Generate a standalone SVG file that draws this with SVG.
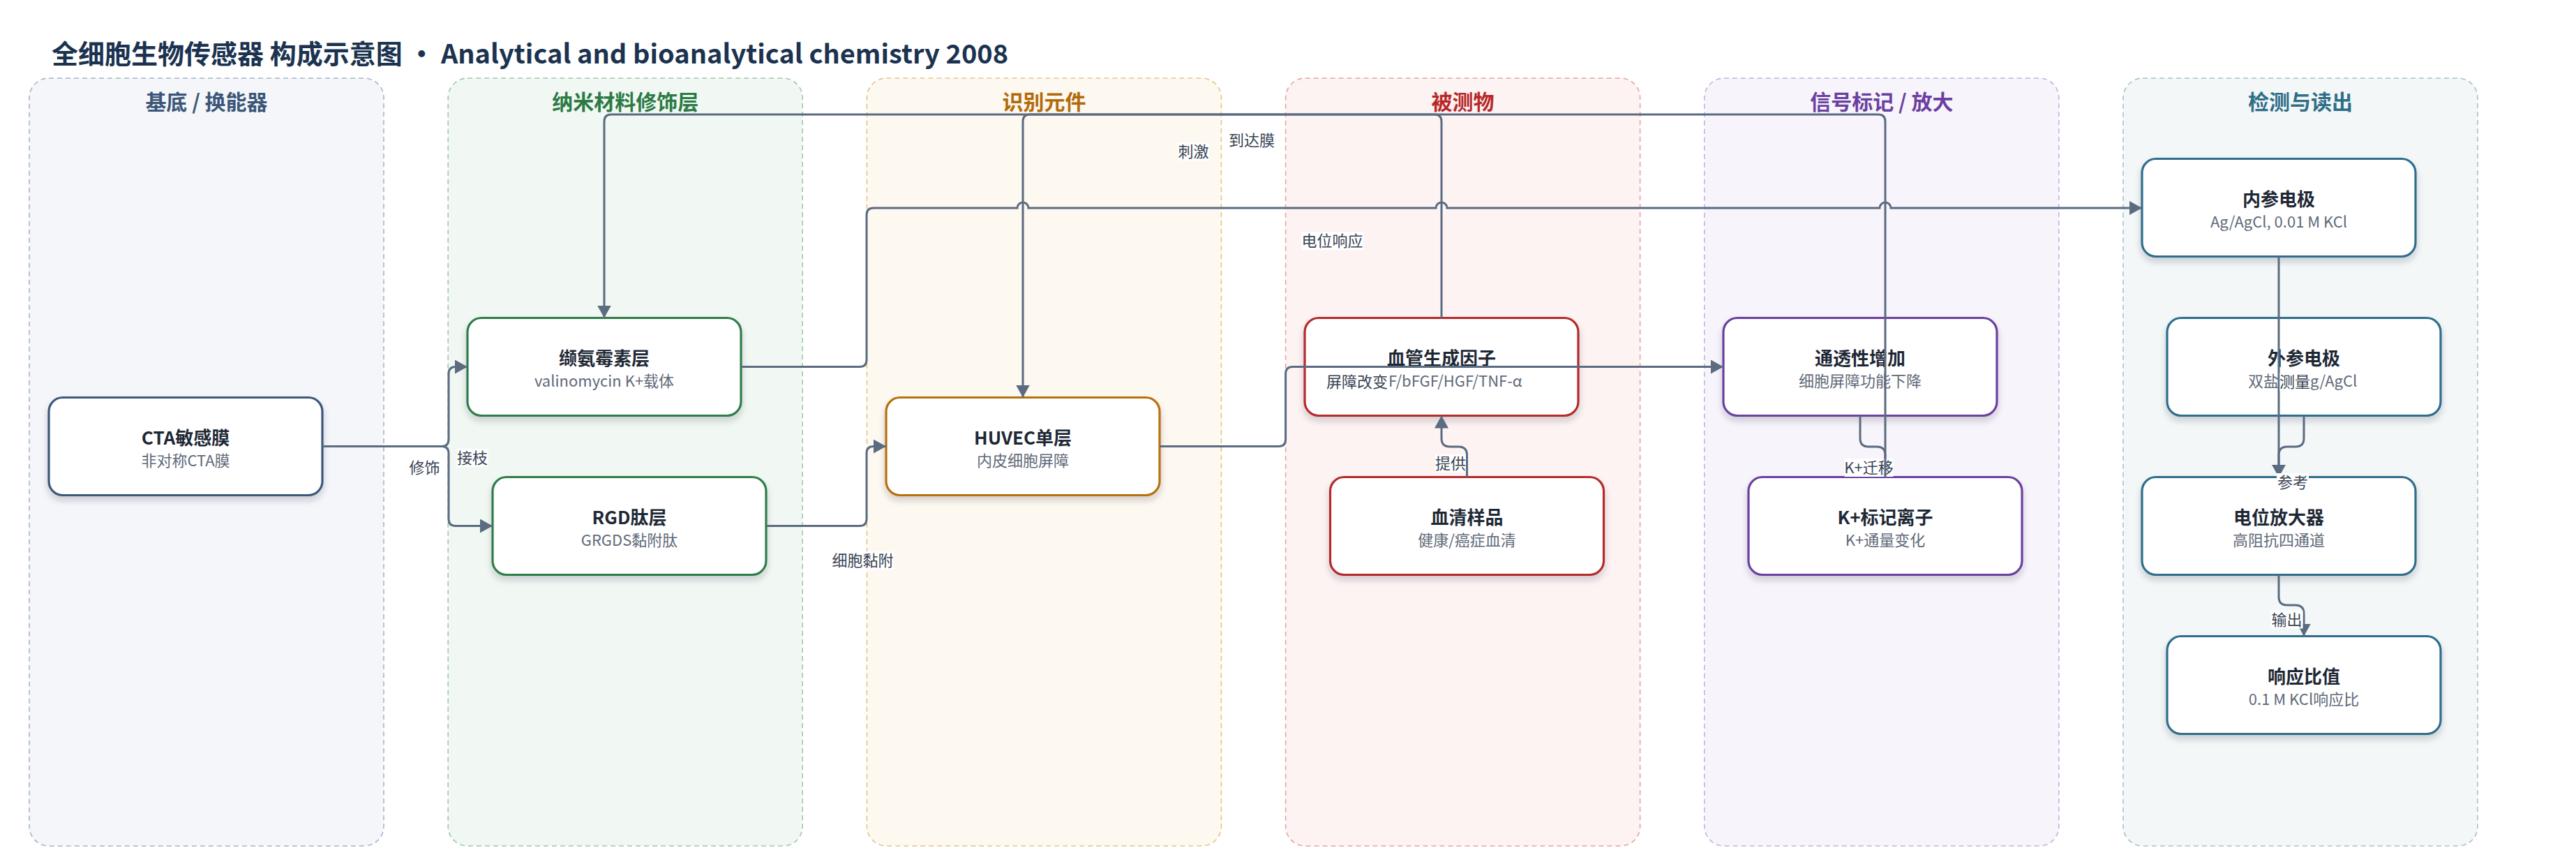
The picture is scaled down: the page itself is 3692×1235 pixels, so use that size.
<svg xmlns="http://www.w3.org/2000/svg" width="3692" height="1235" viewBox="0 0 3692 1235">
<style>
text{font-family:"Noto Sans CJK SC","Noto Sans",sans-serif}
.ttl{font-size:38px;font-weight:700;fill:#1b3350}
.lane{stroke-width:1.6;stroke-dasharray:7 5}
.lt{font-size:30px;font-weight:700;text-anchor:middle}
.node{fill:#fff;stroke-width:3.2;filter:url(#sh)}
.nt{font-size:26px;font-weight:700;fill:#1e2835;text-anchor:middle}
.ns{font-size:22px;fill:#5f6a79;text-anchor:middle}
.nss{font-size:22px;fill:#5f6a79}
.edge{fill:none;stroke:#5b6b80;stroke-width:3}
.arr{marker-end:url(#arr)}
.lb{fill:#fff}
.lbt{font-size:22px;fill:#3a4454;text-anchor:middle}
</style>
<defs>
<filter id="sh" x="-10%" y="-15%" width="120%" height="140%">
<feDropShadow dx="0" dy="6" stdDeviation="5" flood-color="#1e2835" flood-opacity="0.2"/>
</filter>
<marker id="arr" markerUnits="userSpaceOnUse" markerWidth="20" markerHeight="20" refX="18" refY="10" orient="auto">
<path d="M0,0 L18,10 L0,20 z" fill="#5b6b80"/>
</marker>
</defs>
<rect width="3692" height="1235" fill="#fff"/>
<text class="ttl" x="74" y="90.5">全细胞生物传感器 构成示意图 · Analytical and bioanalytical chemistry 2008</text>

<g id="lanes">
<g id="lane-substrate"><rect class="lane" x="42" y="112" width="508" height="1100" rx="28" fill="#f4f6fa" stroke="#a8b5c9"/><text class="lt" x="296" y="157" fill="#3c5678">基底 / 换能器</text></g>
<g id="lane-nano"><rect class="lane" x="642.2" y="112" width="508" height="1100" rx="28" fill="#f1f8f3" stroke="#9ccaa9"/><text class="lt" x="896.2" y="157" fill="#2c7a45">纳米材料修饰层</text></g>
<g id="lane-recog"><rect class="lane" x="1242.4" y="112" width="508" height="1100" rx="28" fill="#fdf8f0" stroke="#e6c38a"/><text class="lt" x="1496.4" y="157" fill="#b36b0a">识别元件</text></g>
<g id="lane-analyte"><rect class="lane" x="1842.6" y="112" width="508" height="1100" rx="28" fill="#fdf3f3" stroke="#e8a3a3"/><text class="lt" x="2096.6" y="157" fill="#b8282a">被测物</text></g>
<g id="lane-signal"><rect class="lane" x="2442.8" y="112" width="508" height="1100" rx="28" fill="#f7f4fb" stroke="#c8b0e0"/><text class="lt" x="2696.8" y="157" fill="#6b3fa0">信号标记 / 放大</text></g>
<g id="lane-detect"><rect class="lane" x="3043" y="112" width="508" height="1100" rx="28" fill="#f3f7f8" stroke="#a5c3cd"/><text class="lt" x="3297" y="157" fill="#2f6e87">检测与读出</text></g>
</g>

<g id="nodes">
<g id="n-cta"><rect class="node" x="70" y="569.5" width="392" height="140" rx="20" stroke="#3e587c"/><text class="nt" x="266" y="636.5">CTA敏感膜</text><text class="ns" x="266" y="668">非对称CTA膜</text></g>
<g id="n-valino"><rect class="node" x="670" y="455.5" width="392" height="140" rx="20" stroke="#2e7d4a"/><text class="nt" x="866" y="522.5">缬氨霉素层</text><text class="ns" x="866" y="554">valinomycin K+载体</text></g>
<g id="n-rgd"><rect class="node" x="706" y="683.5" width="392" height="140" rx="20" stroke="#2e7d4a"/><text class="nt" x="902" y="750.5">RGD肽层</text><text class="ns" x="902" y="782">GRGDS黏附肽</text></g>
<g id="n-huvec"><rect class="node" x="1270" y="569.5" width="392" height="140" rx="20" stroke="#b86f0c"/><text class="nt" x="1466" y="636.5">HUVEC单层</text><text class="ns" x="1466" y="668">内皮细胞屏障</text></g>
<g id="n-factor"><rect class="node" x="1870" y="455.5" width="392" height="140" rx="20" stroke="#b52a2a"/><text class="nt" x="2066" y="522.5">血管生成因子</text><text class="nss" x="1990" y="554">F/bFGF/HGF/TNF-α</text></g>
<g id="n-serum"><rect class="node" x="1906.5" y="683.5" width="392" height="140" rx="20" stroke="#b52a2a"/><text class="nt" x="2102.5" y="750.5">血清样品</text><text class="ns" x="2102.5" y="782">健康/癌症血清</text></g>
<g id="n-perm"><rect class="node" x="2470" y="455.5" width="392" height="140" rx="20" stroke="#6b3fa0"/><text class="nt" x="2666" y="522.5">通透性增加</text><text class="ns" x="2666" y="554">细胞屏障功能下降</text></g>
<g id="n-kion"><rect class="node" x="2506" y="683.5" width="392" height="140" rx="20" stroke="#6b3fa0"/><text class="nt" x="2702" y="750.5">K+标记离子</text><text class="ns" x="2702" y="782">K+通量变化</text></g>
<g id="n-inner"><rect class="node" x="3070" y="227.5" width="392" height="140" rx="20" stroke="#2f6e8c"/><text class="nt" x="3266" y="294.5">内参电极</text><text class="ns" x="3266" y="326">Ag/AgCl, 0.01 M KCl</text></g>
<g id="n-outer"><rect class="node" x="3106" y="455.5" width="392" height="140" rx="20" stroke="#2f6e8c"/><text class="nt" x="3302" y="522.5">外参电极</text><text class="nss" x="3222" y="554">双盐</text><text class="nss" x="3311" y="554">g/AgCl</text></g>
<g id="n-amp"><rect class="node" x="3070" y="683.5" width="392" height="140" rx="20" stroke="#2f6e8c"/><text class="nt" x="3266" y="750.5">电位放大器</text><text class="ns" x="3266" y="782">高阻抗四通道</text></g>
<g id="n-ratio"><rect class="node" x="3106" y="911.5" width="392" height="140" rx="20" stroke="#2f6e8c"/><text class="nt" x="3302" y="978.5">响应比值</text><text class="ns" x="3302" y="1010">0.1 M KCl响应比</text></g>
</g>

<g id="connectors">
<path class="edge arr" d="M462,639.5 H633 Q643,639.5 643,629.5 V535.5 Q643,525.5 653,525.5 H670"/>
<path class="edge arr" d="M462,639.5 H633 Q643,639.5 643,649.5 V743.5 Q643,753.5 653,753.5 H706"/>
<path class="edge arr" d="M1062,525.5 H1232 Q1242,525.5 1242,515.5 V308 Q1242,298 1252,298 H1458 A8,8 0 0 1 1474,298 H2058 A8,8 0 0 1 2074,298 H2694 A8,8 0 0 1 2710,298 H3070"/>
<path class="edge arr" d="M1098,753.5 H1232 Q1242,753.5 1242,743.5 V649.5 Q1242,639.5 1252,639.5 H1270"/>
<path class="edge arr" d="M1662,639.5 H1832.6 Q1842.6,639.5 1842.6,629.5 V535.5 Q1842.6,525.5 1852.6,525.5 H2470"/>
<path class="edge arr" d="M2066,455.5 V174 Q2066,164 2056,164 H1476 Q1466,164 1466,174 V569.5"/>
<path class="edge arr" d="M2102.5,683.5 V652 Q2102.5,640 2090.5,640 H2078 Q2066,640 2066,628 V595.5"/>
<path class="edge arr" d="M2666,595.5 V628 Q2666,640 2678,640 H2690 Q2702,640 2702,652 V683.5"/>
<path class="edge arr" d="M3266,367.5 V683.5"/>
<path class="edge arr" d="M3302,595.5 V628 Q3302,640 3290,640 H3278 Q3266,640 3266,652 V683.5"/>
<path class="edge arr" d="M3266,823.5 V855 Q3266,867 3278,867 H3290 Q3302,867 3302,879 V911.5"/>
<g id="edge-labels">
<rect class="lb" x="586" y="657" width="45" height="26"/><text class="lbt" x="608.5" y="678">修饰</text>
<rect class="lb" x="654.5" y="643" width="45" height="26"/><text class="lbt" x="677" y="664">接枝</text>
<rect class="lb" x="1865" y="332" width="89" height="26"/><text class="lbt" x="1909.5" y="353">电位响应</text>
<rect class="lb" x="1192" y="790" width="89" height="26"/><text class="lbt" x="1236.5" y="811">细胞黏附</text>
<rect class="lb" x="1900.5" y="534" width="89" height="26"/><text class="lbt" x="1945" y="555">屏障改变</text>
<rect class="lb" x="1688" y="204" width="45" height="26"/><text class="lbt" x="1710.5" y="225">刺激</text>
<rect class="lb" x="1761" y="188" width="66" height="26"/><text class="lbt" x="1794" y="209">到达膜</text>
<rect class="lb" x="2057" y="651" width="44" height="26"/><text class="lbt" x="2079" y="672">提供</text>
<rect class="lb" x="2643.5" y="657" width="70" height="26"/><text class="lbt" x="2678.5" y="678">K+迁移</text>
<rect class="lb" x="3267.5" y="534" width="43" height="26"/><text class="lbt" x="3289" y="555">测量</text>
<rect class="lb" x="3263" y="678" width="46" height="26"/><text class="lbt" x="3286" y="699">参考</text>
<rect class="lb" x="3254.5" y="874.5" width="46" height="26"/><text class="lbt" x="3277.5" y="895.5">输出</text>
</g>
<path class="edge arr" d="M2702,683.5 V174 Q2702,164 2692,164 H876 Q866,164 866,174 V455.5"/>
</g>
</svg>
